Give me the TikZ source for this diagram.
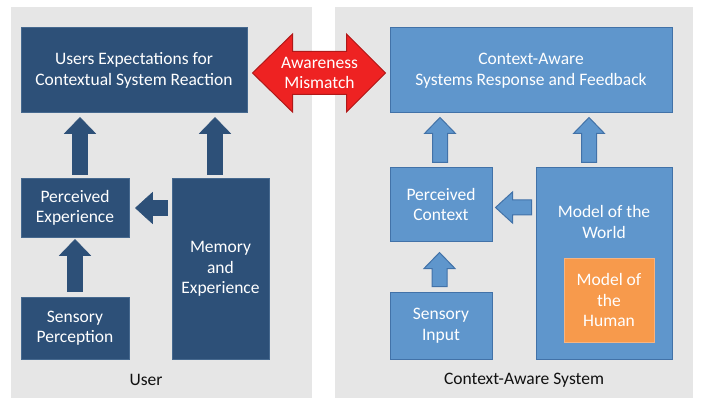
\documentclass[tikz,border=0pt]{standalone}
\usepackage{fontspec}
\setmainfont{Carlito}
\usetikzlibrary{calc}
\definecolor{panel}{HTML}{E6E6E6}
\definecolor{dkblue}{HTML}{2D5078}
\definecolor{dkedge}{HTML}{46698F}
\definecolor{ltblue}{HTML}{5F96CC}
\definecolor{ltedge}{HTML}{4272A8}
\definecolor{orng}{HTML}{F79A4C}
\definecolor{orngedge}{HTML}{F6B482}
\definecolor{redfill}{HTML}{EE2222}
\definecolor{rededge}{HTML}{B01818}
\definecolor{lbl}{HTML}{111111}
% vertical block arrow: #1 style, #2 from node, #3 to node, #4 x shift, #5 gap at source, #6 gap at target
\newcommand\blockup[6]{%
  \path[#1] let \p1=($(#2.north)+(#4,#5)$), \p2=($(#3.south)+(0,-#6)$) in
    (\x1-7.5pt,\y1) -- (\x1-7.5pt,\y2-16pt) -- (\x1-15.5pt,\y2-16pt) -- (\x1,\y2)
    -- (\x1+15.5pt,\y2-16pt) -- (\x1+7.5pt,\y2-16pt) -- (\x1+7.5pt,\y1) -- cycle;}
% horizontal block arrow pointing left: #1 style, #2 from node (west), #3 to node (east), #4 y shift, #5 gap source, #6 gap target
\newcommand\blockleft[6]{%
  \path[#1] let \p1=($(#2.west)+(-#5,0)$), \p2=($(#3.east)+(#6,#4)$) in
    (\x1,\y2+7.5pt) -- (\x2+17pt,\y2+7.5pt) -- (\x2+17pt,\y2+15.5pt) -- (\x2,\y2)
    -- (\x2+17pt,\y2-15.5pt) -- (\x2+17pt,\y2-7.5pt) -- (\x1,\y2-7.5pt) -- cycle;}
\begin{document}
\begin{tikzpicture}[x=1pt,y=-1pt,
  every node/.style={font=\fontsize{17.5}{20.5}\selectfont, align=center, inner sep=0pt},
  panelbox/.style={fill=panel, draw=none},
  dbox/.style={draw=dkedge, fill=dkblue, line width=1pt, text=white},
  lbox/.style={draw=ltedge, fill=ltblue, line width=1pt, text=white},
  obox/.style={draw=orngedge, fill=orng, line width=1pt, text=white},
  darr/.style={fill=dkblue, draw=dkblue, line width=0.6pt},
  larr/.style={fill=ltblue, draw=ltedge, line width=1pt},
  redarr/.style={fill=redfill, draw=rededge, line width=1pt},
  caption/.style={text=lbl}]
\useasboundingbox (0,0) rectangle (702,409);
\fill[white] (0,0) rectangle (702,409);
% panels
\path[panelbox] (11,7) rectangle (312,398);
\path[panelbox] (335,7) rectangle (693,398);
% user side
\node[dbox, minimum width=226, minimum height=85] (ue) at (134,70.5) {Users Expectations for\\Contextual System Reaction};
\node[dbox, minimum width=108, minimum height=58] (pe) at (75,208) {Perceived\\Experience};
\node[dbox, minimum width=108, minimum height=62] (sp) at (75,328) {Sensory\\Perception};
\node[dbox, minimum width=97, minimum height=180] (me) at (220.5,269) {Memory\\and\\Experience};
\node[caption] (ul) at (146,380) {User};
% system side
\node[lbox, minimum width=282, minimum height=85] (ca) at (531,70.5) {Context-Aware\\Systems Response and Feedback};
\node[lbox, minimum width=102, minimum height=73] (pc) at (441,204.5) {Perceived\\Context};
\node[lbox, minimum width=102, minimum height=67] (si) at (441,325.5) {Sensory\\Input};
\node[lbox, minimum width=136, minimum height=191] (mw) at (604,263.5) {};
\node[text=white] (mwt) at (604,222) {Model of the\\World};
\node[obox, minimum width=90, minimum height=84] (mh) at (609,300) {Model of\\the\\Human};
\node[caption] (cl) at (524,380) {Context-Aware System};
% user arrows
\blockup{darr}{pe}{ue}{5pt}{4pt}{4pt}
\blockup{darr}{me}{ue}{-5.5pt}{4pt}{4pt}
\blockup{darr}{sp}{pe}{0pt}{5pt}{2pt}
\blockleft{darr}{me}{pe}{0pt}{4pt}{6pt}
% system arrows
\blockup{larr}{pc}{ca}{-1pt}{5pt}{4pt}
\blockup{larr}{mw}{ca}{-15pt}{5pt}{4pt}
\blockup{larr}{si}{pc}{-1.5pt}{5pt}{11pt}
\blockleft{larr}{mw}{pc}{-3pt}{4pt}{3pt}
% awareness mismatch
\path[redarr] let \p1=($(ue.east)+(5pt,-2.5pt)$), \p2=($(ca.west)+(-4pt,-2.5pt)$) in
  (\x1,\y1) -- (\x1+40pt,\y1+39pt) -- (\x1+40pt,\y1+21.5pt) -- (\x2-39pt,\y1+21.5pt)
  -- (\x2-39pt,\y1+39pt) -- (\x2,\y1) -- (\x2-39pt,\y1-39pt) -- (\x2-39pt,\y1-21.5pt)
  -- (\x1+40pt,\y1-21.5pt) -- (\x1+40pt,\y1-39pt) -- cycle;
\node[text=white] (mm) at (319.5,73) {Awareness\\Mismatch};
\end{tikzpicture}
\end{document}
